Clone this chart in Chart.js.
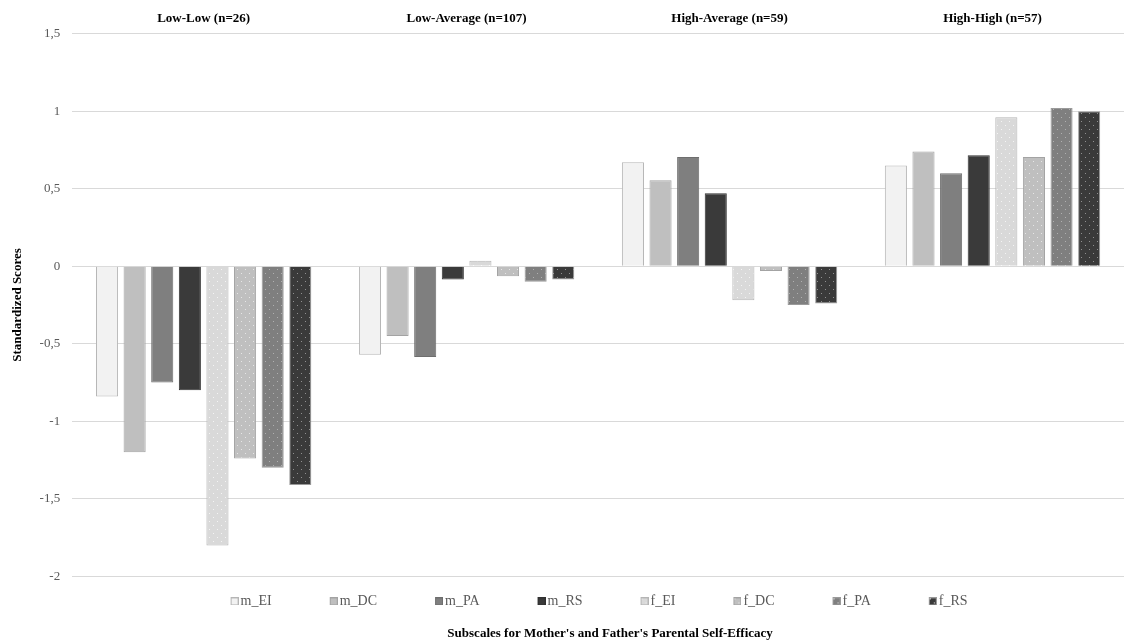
<!DOCTYPE html>
<html>
<head>
<meta charset="utf-8">
<script src="https://cdn.jsdelivr.net/npm/chart.js@4/dist/chart.umd.min.js"></script>
<style>
html,body{margin:0;padding:0;background:#fff;}
#wrap{width:1124px;height:641px;position:relative;}
</style>
</head>
<body>
<div id="wrap"><canvas id="c" width="1124" height="641"></canvas></div>
<script>
// ---- data ----
const categories = ["Low-Low (n=26)", "Low-Average (n=107)", "High-Average (n=59)", "High-High (n=57)"];
const seriesNames = ["m_EI", "m_DC", "m_PA", "m_RS", "f_EI", "f_DC", "f_PA", "f_RS"];
const m_EI = [-0.84, -0.57, 0.67, 0.65];
const m_DC = [-1.20, -0.45, 0.555, 0.74];
const m_PA = [-0.75, -0.585, 0.705, 0.60];
const m_RS = [-0.80, -0.085, 0.47, 0.715];
const f_EI = [-1.80, 0.035, -0.22, 0.96];
const f_DC = [-1.24, -0.065, -0.03, 0.705];
const f_PA = [-1.30, -0.10, -0.25, 1.02];
const f_RS = [-1.41, -0.085, -0.24, 1.00];
const yTicks = [-2, -1.5, -1, -0.5, 0, 0.5, 1, 1.5];

// ---- styles ----
function dotCanvas(bg, dot) {
  const c = document.createElement('canvas');
  c.width = 8; c.height = 8;
  const g = c.getContext('2d');
  g.fillStyle = bg; g.fillRect(0, 0, 8, 8);
  if (dot) {
    g.fillStyle = dot;
    g.fillRect(1, 1, 1, 1);
    g.fillRect(5, 5, 1, 1);
  }
  return c;
}
const ctx0 = document.createElement('canvas').getContext('2d');
const baseCols = ["#f2f2f2", "#bfbfbf", "#7f7f7f", "#3a3a3a", "#d9d9d9", "#bfbfbf", "#7f7f7f", "#3a3a3a"];
const dotCols = [null, null, null, null, "#f4f4f4", "#e6e6e6", "#b0b0b0", "#909090"];
const borders = ["#b5b5b5", "#a3a3a3", "#6e6e6e", "#303030", "#b5b5b5", "#a3a3a3", "#9a9a9a", "#9a9a9a"];
const fills = baseCols.map((b, i) => dotCols[i] ? ctx0.createPattern(dotCanvas(b, dotCols[i]), 'repeat') : b);
const values = [m_EI, m_DC, m_PA, m_RS, f_EI, f_DC, f_PA, f_RS];

// legend swatch: 8x8 square at the right end of a wider transparent canvas (sets item spacing)
const SW = 43;
const CW = SW + 10;
const swatches = baseCols.map((b, i) => {
  const c = document.createElement('canvas');
  c.width = CW; c.height = 8;
  const g = c.getContext('2d');
  g.drawImage(dotCanvas(b, dotCols[i] ? "#f0f0f0" : null), CW - 8, 0);
  g.strokeStyle = borders[i]; g.lineWidth = 1;
  g.strokeRect(CW - 7.5, 0.5, 7, 7);
  return c;
});

const datasets = seriesNames.map((n, i) => ({
  label: n,
  data: values[i],
  backgroundColor: fills[i],
  borderColor: borders[i],
  borderWidth: 1,
  categoryPercentage: 0.84,
  barPercentage: 0.8
}));

const serif = "'Liberation Serif', 'DejaVu Serif', serif";

// small horizontal nudges of the legend / bottom title boxes
const nudge = {
  id: 'nudge',
  afterLayout(chart) {
    if (chart.legend) { chart.legend.left -= 19; chart.legend.right -= 19; }
    if (chart.titleBlock) { chart.titleBlock.left += 12; chart.titleBlock.right += 12; }
  }
};

new Chart(document.getElementById('c'), {
  type: 'bar',
  data: { labels: categories, datasets },
  plugins: [nudge],
  options: {
    responsive: false,
    animation: false,
    layout: { padding: { left: 10, right: 0, top: 4, bottom: 0 } },
    plugins: {
      legend: {
        position: 'bottom',
        fullSize: false,
        labels: {
          usePointStyle: true,
          pointStyleWidth: SW,
          boxHeight: 8,
          padding: 18,
          color: '#595959',
          font: { family: serif, size: 14 },
          generateLabels: (chart) => {
            const items = Chart.defaults.plugins.legend.labels.generateLabels(chart);
            items.forEach((it, i) => { it.pointStyle = swatches[i]; });
            return items;
          }
        }
      },
      title: {
        display: true,
        position: 'bottom',
        fullSize: false,
        text: "Subscales for Mother's and Father's Parental Self-Efficacy",
        color: '#000',
        font: { family: serif, size: 13, weight: 'bold' },
        padding: { top: 7, bottom: 0 }
      },
      tooltip: { enabled: false }
    },
    scales: {
      x: {
        position: 'top',
        grid: { display: false, drawTicks: false },
        border: { display: false },
        ticks: { color: '#000', font: { family: serif, size: 13, weight: 'bold' }, padding: 7, maxRotation: 0 }
      },
      y: {
        min: yTicks[0], max: yTicks[yTicks.length - 1],
        afterBuildTicks: (s) => { s.ticks = yTicks.map(v => ({ value: v })); },
        grid: { color: '#d9d9d9', lineWidth: 1, drawTicks: false },
        border: { display: false },
        ticks: {
          color: '#595959', font: { family: serif, size: 13 }, padding: 12,
          callback: (v) => String(v).replace('.', ',')
        },
        title: {
          display: true, text: 'Standardized Scores', color: '#000',
          font: { family: serif, size: 13, weight: 'bold' }, padding: { top: 0, bottom: 2 }
        }
      }
    }
  }
});
</script>
</body>
</html>
